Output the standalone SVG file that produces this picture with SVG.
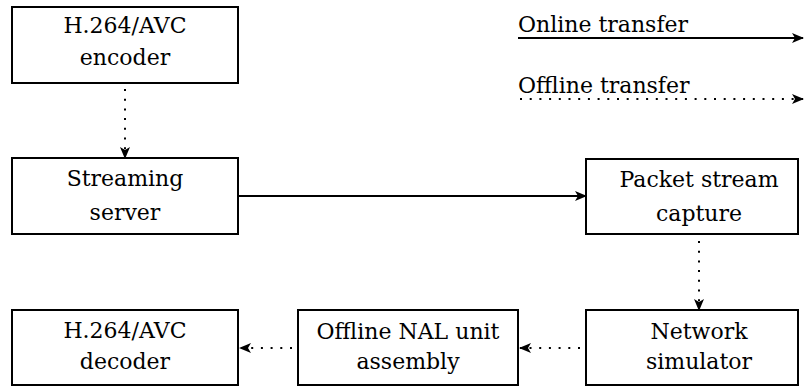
<svg xmlns="http://www.w3.org/2000/svg" width="804" height="386" viewBox="0 0 804 386">
<style>
.box{fill:#fff;stroke:#000;stroke-width:2}
text{font-family:'DejaVu Serif',serif;font-size:22px;fill:#000;text-anchor:middle}
.lg{text-anchor:start}
.solid{stroke:#000;stroke-width:2;fill:none}
.dot{stroke:#000;stroke-width:2;fill:none;stroke-dasharray:2 7.7}
</style>
<defs>
<marker id="ah" viewBox="0 0 12 12" refX="11" refY="6" markerWidth="12" markerHeight="12" markerUnits="userSpaceOnUse" orient="auto">
<path d="M0,1 L12,6 L0,11 L3,6 Z" fill="#000"/>
</marker>
</defs>
<g id="encoder"><rect class="box" x="12" y="7" width="226" height="76"/><text x="125" y="33">H.264/AVC</text><text x="125" y="65">encoder</text></g>
<g id="server"><rect class="box" x="12" y="158" width="226" height="76"/><text x="125" y="186">Streaming</text><text x="125" y="220">server</text></g>
<g id="capture"><rect class="box" x="586" y="159" width="212" height="75"/><text x="699" y="187">Packet stream</text><text x="699" y="221">capture</text></g>
<g id="simulator"><rect class="box" x="586" y="310" width="212" height="75"/><text x="699" y="339">Network</text><text x="699" y="369">simulator</text></g>
<g id="assembly"><rect class="box" x="298" y="310" width="220" height="75"/><text x="408" y="339">Offline NAL unit</text><text x="408" y="369">assembly</text></g>
<g id="decoder"><rect class="box" x="12" y="310" width="226" height="75"/><text x="125" y="338">H.264/AVC</text><text x="125" y="369">decoder</text></g>
<g id="legend"><text class="lg" x="518" y="32">Online transfer</text><text class="lg" x="518" y="93">Offline transfer</text></g>
<g id="connectors">
<line class="dot" x1="125" y1="89" x2="125" y2="158" marker-end="url(#ah)"/>
<line class="solid" x1="238" y1="196" x2="586" y2="196" marker-end="url(#ah)"/>
<line class="dot" x1="699" y1="241" x2="699" y2="310" marker-end="url(#ah)"/>
<line class="dot" x1="580" y1="348" x2="520" y2="348" marker-end="url(#ah)"/>
<line class="dot" x1="292" y1="348" x2="240" y2="348" marker-end="url(#ah)"/>
<line class="solid" x1="518" y1="38" x2="803" y2="38" marker-end="url(#ah)"/>
<line class="dot" x1="520" y1="99" x2="803" y2="99" marker-end="url(#ah)"/>
</g>
</svg>
